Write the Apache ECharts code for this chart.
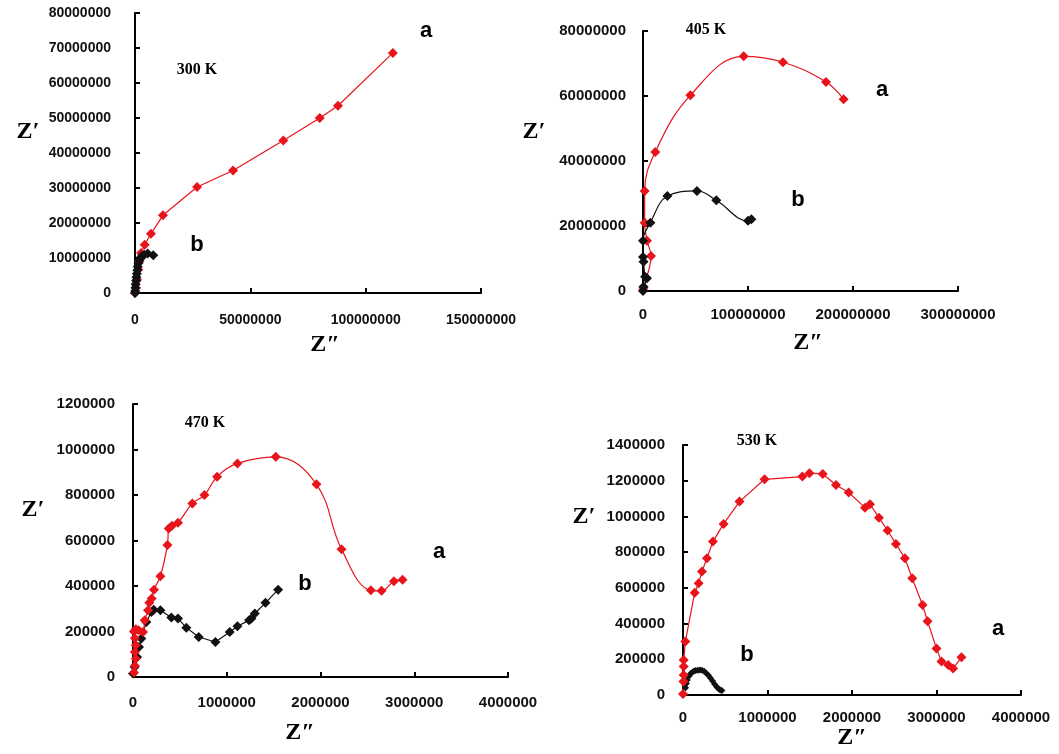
<!DOCTYPE html>
<html>
<head>
<meta charset="utf-8">
<script src="https://cdn.jsdelivr.net/npm/echarts@6/dist/echarts.min.js"></script>
<style>
  html, body { margin: 0; padding: 0; background: #fff; }
  #chart { width: 1059px; height: 754px; }
</style>
</head>
<body>
<div id="chart"></div>
<script>
// Nyquist data, [Z'', Z']
var z300a = [[0,0],[0.4e6,1.4e6],[0.9e6,3.8e6],[1.4e6,6.7e6],[1.9e6,9.0e6],[2.6e6,11.4e6],[4.2e6,13.8e6],
  [6.9e6,16.9e6],[12.1e6,22.2e6],[26.9e6,30.3e6],[42.5e6,35.0e6],[64.3e6,43.6e6],[80.1e6,50.0e6],
  [88.0e6,53.5e6],[111.8e6,68.6e6]];
var z300b = [[0,0],[0.1e6,0.6e6],[0.2e6,1.5e6],[0.3e6,2.5e6],[0.5e6,3.5e6],[0.6e6,4.5e6],[0.8e6,5.5e6],
  [1.0e6,6.5e6],[1.2e6,7.5e6],[1.5e6,8.5e6],[2.0e6,9.5e6],[2.8e6,10.4e6],[4.0e6,10.9e6],[5.5e6,11.3e6],[7.9e6,10.8e6]];

var z405a = [[0.2e6,0.3e6],[0.5e6,1.0e6],[7.6e6,10.8e6],[3.8e6,15.5e6],[1.6e6,21.0e6],[1.6e6,30.8e6],
  [11.7e6,42.8e6],[45.1e6,60.2e6],[95.9e6,72.2e6],[133.3e6,70.4e6],[174.3e6,64.3e6],[191.1e6,59.0e6]];
var z405b = [[0,0],[0.5e6,1.3e6],[3.8e6,3.9e6],[2.0e6,4.4e6],[0.5e6,9.0e6],[0,10.5e6],[0,15.5e6],
  [7.0e6,21.0e6],[23.2e6,29.2e6],[51.4e6,30.8e6],[69.8e6,27.9e6],[100.0e6,21.6e6],[103.2e6,22.1e6]];

var z470a = [[10e3,20e3],[20e3,50e3],[30e3,80e3],[20e3,110e3],[30e3,140e3],[20e3,170e3],[10e3,200e3],
  [30e3,210e3],[60e3,205e3],[107e3,198e3],[125e3,250e3],[160e3,293e3],[174e3,326e3],[199e3,345e3],
  [224e3,384e3],[292e3,443e3],[367e3,580e3],[381e3,653e3],[416e3,665e3],[480e3,678e3],[633e3,763e3],
  [762e3,800e3],[897e3,880e3],[1114e3,939e3],[1523e3,968e3],[1957e3,847e3],[2224e3,562e3],
  [2537e3,381e3],[2651e3,379e3],[2783e3,421e3],[2875e3,428e3]];
var z470b = [[0,15e3],[18e3,44e3],[43e3,88e3],[64e3,132e3],[89e3,169e3],[142e3,242e3],[196e3,286e3],
  [221e3,296e3],[292e3,293e3],[409e3,261e3],[480e3,257e3],[569e3,217e3],[701e3,176e3],[879e3,154e3],
  [1032e3,198e3],[1114e3,223e3],[1238e3,249e3],[1263e3,257e3],[1299e3,279e3],[1413e3,326e3],[1548e3,384e3]];

var z530a = [[0,5e3],[5e3,75e3],[8e3,112e3],[8e3,159e3],[8e3,196e3],[28e3,299e3],[138e3,573e3],
  [185e3,626e3],[224e3,691e3],[283e3,766e3],[354e3,859e3],[480e3,958e3],[669e3,1083e3],[965e3,1208e3],
  [1413e3,1223e3],[1496e3,1242e3],[1654e3,1238e3],[1811e3,1176e3],[1961e3,1134e3],[2154e3,1049e3],
  [2213e3,1068e3],[2319e3,993e3],[2421e3,921e3],[2520e3,846e3],[2626e3,766e3],[2713e3,654e3],
  [2835e3,504e3],[2894e3,413e3],[3000e3,261e3],[3059e3,187e3],[3138e3,168e3],[3197e3,149e3],[3295e3,211e3]];
var z530b = [[30e3,40e3],[40e3,65e3],[50e3,84e3],[70e3,105e3],[90e3,120e3],[110e3,128e3],[130e3,134e3],
  [150e3,137e3],[175e3,139e3],[200e3,140e3],[225e3,138e3],[250e3,133e3],[275e3,122e3],[300e3,110e3],
  [325e3,95e3],[350e3,78e3],[375e3,60e3],[400e3,45e3],[420e3,35e3],[440e3,28e3],[460e3,25e3]];

// axis ranges [max, interval] per panel
var xRanges = [[150e6, 50e6], [300e6, 100e6], [4e6, 1e6], [4e6, 1e6]];
var yRanges = [[80e6, 10e6], [80e6, 20e6], [1.2e6, 200e3], [1.4e6, 200e3]];
var temps = ['300 K', '405 K', '470 K', '530 K'];

var grids = [
  {left: 135, top: 13, width: 346, height: 280},
  {left: 643, top: 31, width: 315, height: 260},
  {left: 133, top: 404, width: 375, height: 273},
  {left: 683, top: 445, width: 338, height: 250}
];
var fontSizes = [14, 15, 15, 15];
var yMargins = [24, 17, 18, 18];
var xMargins = [20, 16, 18, 15];

var chart = echarts.init(document.getElementById('chart'));

function axis(i, r, isX) {
  return {
    type: 'value', gridIndex: i, min: 0, max: r[0], interval: r[1],
    axisLine: {show: true, onZero: false, lineStyle: {color: '#000', width: 2}},
    axisTick: {show: true, inside: true, length: 5, lineStyle: {color: '#000', width: 2}},
    splitLine: {show: false},
    axisLabel: {
      color: '#111', fontWeight: 'bold', fontSize: fontSizes[i],
      fontFamily: 'Liberation Sans, Arial, sans-serif',
      margin: isX ? xMargins[i] : yMargins[i],
      formatter: function (v) { return String(v); }
    }
  };
}

function line(i, data, color, smooth, size) {
  return {
    type: 'line', xAxisIndex: i, yAxisIndex: i, data: data, smooth: smooth,
    symbol: 'diamond', symbolSize: size || 10, showSymbol: true,
    itemStyle: {color: color},
    lineStyle: {color: color, width: 1.2},
    animation: false
  };
}

var txt = function (x, y, s, font) {
  return {type: 'text', x: x, y: y, style: {text: s, font: font, fill: '#000', align: 'center', verticalAlign: 'middle'}};
};
var zFont = 'bold 24px "Liberation Serif", serif';
var tFont = 'bold 16px "Liberation Serif", serif';
var lFont = 'bold 22px "Liberation Sans", Arial, sans-serif';

chart.setOption({
  backgroundColor: '#fff',
  grid: grids,
  xAxis: xRanges.map(function (r, i) { return axis(i, r, true); }),
  yAxis: yRanges.map(function (r, i) { return axis(i, r, false); }),
  series: [
    line(0, z300a, '#e8141c', false),
    line(0, z300b, '#111', false),
    line(1, z405a, '#e8141c', 0.4),
    line(1, z405b, '#111', 0.4),
    line(2, z470b, '#111', false),
    line(2, z470a, '#e8141c', 0.4),
    line(3, z530b, '#111', false, 7),
    line(3, z530a, '#e8141c', false)
  ],
  graphic: [
    txt(28, 132, 'Z\u2032', zFont), txt(325, 345, 'Z\u2033', zFont),
    txt(534, 132, 'Z\u2032', zFont), txt(808, 343, 'Z\u2033', zFont),
    txt(33, 510, 'Z\u2032', zFont), txt(300, 733, 'Z\u2033', zFont),
    txt(584, 517, 'Z\u2032', zFont), txt(852, 738, 'Z\u2033', zFont),
    txt(197, 70, temps[0], tFont), txt(706, 30, temps[1], tFont),
    txt(205, 423, temps[2], tFont), txt(757, 441, temps[3], tFont),
    txt(426, 31, 'a', lFont), txt(197, 245, 'b', lFont),
    txt(882, 90, 'a', lFont), txt(798, 200, 'b', lFont),
    txt(439, 552, 'a', lFont), txt(305, 584, 'b', lFont),
    txt(998, 629, 'a', lFont), txt(747, 655, 'b', lFont)
  ]
});
</script>
</body>
</html>
